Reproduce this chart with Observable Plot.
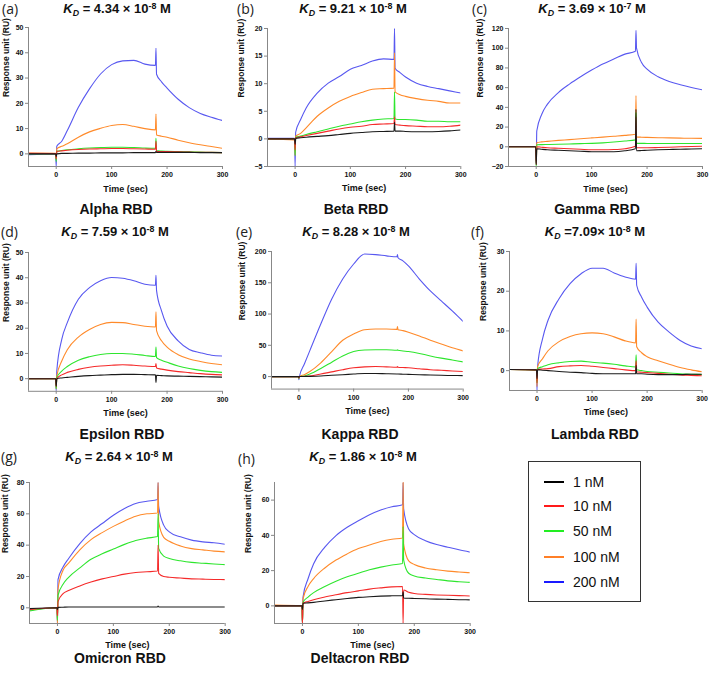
<!DOCTYPE html>
<html><head><meta charset="utf-8">
<script src="https://cdn.jsdelivr.net/npm/d3@7"></script>
<script src="https://cdn.jsdelivr.net/npm/@observablehq/plot@0.6"></script>
<style>
body{margin:0;background:#fff;}
#root{position:relative;width:709px;height:674px;overflow:hidden;font-family:"Liberation Sans",Arial,sans-serif;color:#111;}
.abs{position:absolute;white-space:nowrap;line-height:1;}
.tag{font-family:"Open Sans",sans-serif;font-size:14px;line-height:16px;color:#222;transform:translateY(-50%);}
.kd{font-weight:bold;font-size:13px;line-height:16px;transform:translate(-50%,-50%);}
.kd sub,.kd sup{font-size:0.68em;line-height:0;}
.kd sub{vertical-align:-0.3em;}
.kd sup{vertical-align:0.5em;}
.name{font-weight:bold;font-size:14px;transform:translate(-50%,-50%);}
#legend{position:absolute;left:528px;top:461px;width:111px;height:139px;border:1.5px solid #333;}
#legend .row{position:absolute;left:15px;height:16px;width:90px;}
#legend .sw{position:absolute;left:0;top:7px;width:20px;height:2px;}
#legend .lb{position:absolute;left:29px;top:0;font-size:14px;white-space:nowrap;line-height:16px;}
</style></head><body><div id="root"></div>
<script>
// sample times (sec)
const times = [-50, -1, 0, 1, 10, 20, 40, 60, 80, 100, 120, 140, 160, 179, 180, 181, 190, 200, 220, 240, 260, 280, 300];
const concentrations = ["1 nM", "10 nM", "50 nM", "100 nM", "200 nM"];
const xTicks = [0, 100, 200, 300];

// Response units (RU) per concentration: 1, 10, 50, 100, 200 nM
const alpha = [
  [0, 0, -1, 0, 0.2, 0.2, 0.3, 0.3, 0.4, 0.4, 0.4, 0.5, 0.5, 0.5, 1, 0.6, 0.6, 0.6, 0.6, 0.6, 0.5, 0.5, 0.5],
  [0.2, 0.1, -2, 1, 1.2, 1.4, 1.7, 1.9, 2.0, 2.1, 2.1, 2.0, 1.9, 1.8, 5, 1.0, 0.9, 0.9, 0.8, 0.7, 0.6, 0.6, 0.5],
  [0, 0, -3, 1, 1.3, 1.6, 2.0, 2.3, 2.5, 2.6, 2.6, 2.5, 2.3, 2.2, 6.2, 1.3, 1.1, 1.0, 0.9, 0.8, 0.7, 0.6, 0.5],
  [0.3, 0.2, -2, 2, 3, 4, 6.6, 8.7, 10.1, 11.2, 11.6, 10.9, 10, 9.5, 15.8, 7.5, 7, 6.6, 5.4, 4.4, 3.6, 2.9, 2.2],
  [-0.3, 0, -5, 3, 5, 9.2, 18.4, 25.7, 31.6, 35.3, 36.8, 37, 35.5, 35, 41.8, 31.5, 28.5, 26, 21.6, 18.3, 16, 14.5, 13.2]
];
const beta = [
  [0, 0, -1, 0.1, 0.2, 0.3, 0.45, 0.6, 0.8, 1.0, 1.15, 1.3, 1.35, 1.4, 3, 1.4, 1.4, 1.35, 1.3, 1.3, 1.35, 1.45, 1.6],
  [0, 0, -2, 0.2, 0.4, 0.6, 1.0, 1.4, 1.8, 2.1, 2.3, 2.6, 2.7, 2.8, 4, 2.6, 2.5, 2.4, 2.3, 2.2, 2.2, 2.3, 2.5],
  [0, 0, -3, 0.3, 0.5, 0.8, 1.3, 1.8, 2.3, 2.7, 3.1, 3.4, 3.6, 3.7, 8.5, 3.6, 3.5, 3.5, 3.4, 3.2, 3.2, 3.1, 3.1],
  [0, -0.2, -3, 0.5, 1.0, 2.0, 4.1, 5.6, 6.8, 7.7, 8.4, 9.0, 9.1, 9.2, 15.6, 8.5, 8.0, 7.7, 7.3, 7.0, 6.8, 6.5, 6.5],
  [0.1, 0.1, -5, 1.2, 3.5, 5.6, 8.3, 10.1, 11.3, 12.6, 13.3, 14.1, 14.5, 14.4, 20, 12.8, 12.0, 11.2, 10.1, 9.5, 9.1, 8.7, 8.3]
];
const gamma = [
  [0, 0, -18, -2, -2.5, -3, -3.5, -4, -4.5, -5, -5, -5, -4, -2, 38, -4, -3.8, -3.5, -3, -2.7, -2.5, -2.2, -2],
  [0, 0, -18, 0, -0.5, -1, -1.5, -2, -2.5, -3, -3, -2.8, -2, 0.5, 30, -1, -1, -1, -0.8, -0.5, 0, 0.3, 0.5],
  [0, 0, -20, 2, 2.2, 2.3, 2.5, 2.8, 3.2, 3.5, 4, 4.8, 5.8, 7, 35, 3.5, 3.5, 3.4, 3.4, 3.3, 3.3, 3.3, 3.3],
  [0, 0, -8, 4, 5, 5.5, 6.5, 7.3, 8.2, 9, 9.8, 10.7, 11.6, 12.8, 52, 10, 9.7, 9.5, 9.2, 9, 8.8, 8.6, 8.5],
  [0, 0, -17, 16, 33, 43, 55, 63.6, 71, 77.8, 84, 89, 94, 97, 118, 100, 85.6, 78.8, 71, 66.3, 63, 60.2, 57.8]
];
const epsilon = [
  [0, 0, -3, 0, 0.3, 0.5, 0.9, 1.2, 1.4, 1.6, 1.7, 1.7, 1.6, 1.5, -1.5, 1.3, 1.2, 1.1, 1.0, 0.9, 0.8, 0.7, 0.6],
  [0, 0, -3, 0, 1.5, 2.5, 3.7, 4.5, 5.0, 5.3, 5.5, 5.3, 5.0, 4.8, 6, 4.2, 3.8, 3.4, 2.8, 2.4, 2.0, 1.7, 1.5],
  [0, 0, -4, 0.5, 3, 4.8, 7.3, 8.7, 9.6, 10, 10, 9.7, 9.2, 8.8, 12.5, 8.3, 7.3, 6.5, 5, 4, 3.3, 2.8, 2.5],
  [0, 0, -4, 1, 7, 11.5, 16.5, 19.5, 21.5, 22.3, 22.2, 21.5, 20.8, 20.5, 26.5, 19, 15, 12.5, 9.5, 7.8, 6.8, 6, 5.5],
  [0, 0, -5, 3, 15.6, 22.2, 31.5, 36.1, 38.8, 40.1, 39.8, 38.8, 37.4, 37, 41, 35, 26.9, 20.9, 15, 11.6, 10.3, 9.3, 9]
];
const kappa = [
  [0, 0, -1, 0, 0.2, 0.4, 1, 2, 3, 4, 5, 5, 4.5, 4.2, 4.2, 4, 3.8, 3.5, 3, 2.5, 2, 1.7, 1.5],
  [0, 0, -2, 0, 0.3, 1, 4, 7.5, 11, 14, 15.5, 16, 15.5, 15, 16, 15, 14.5, 14, 12.5, 11, 10, 9, 8],
  [0, 0, -3, 0, 1, 4, 13, 23, 33, 40, 42.5, 43, 43, 42, 43, 42, 41, 40, 37, 33, 29.5, 26.5, 23.5],
  [0, 0, -3, 0, 3, 8, 22, 40, 58, 68, 75, 76, 76, 75.5, 80, 75, 73.5, 71, 65, 58, 52, 46, 41],
  [0, 0, -5, 0, 20, 41.5, 84, 124, 156, 180, 196, 195, 193, 191.5, 195, 190, 185, 177, 156, 137, 121, 105, 88]
];
const lambda = [
  [0.3, 0.2, -2, 0.2, 0.1, 0, -0.2, -0.4, -0.5, -0.7, -0.8, -0.8, -0.8, -0.8, 1.3, -0.8, -0.8, -0.9, -1, -1, -1, -0.9, -0.9],
  [0.3, 0.2, -3, 0.3, 0.4, 0.5, 1, 1.2, 1.3, 1.1, 0.8, 0.5, 0.2, 0, 2.5, -0.3, -0.4, -0.5, -0.7, -0.9, -1.1, -1.2, -1.3],
  [0.3, 0.2, -3, 0.5, 1, 1.5, 2, 2.3, 2.4, 2.1, 1.9, 1.6, 1.2, 0.9, 4, 0.2, 0, -0.2, -0.4, -0.6, -0.8, -0.9, -1],
  [0.3, 0.2, -4, 1, 3, 5, 7.3, 8.6, 9.3, 9.5, 9.3, 8.5, 7.5, 7, 13, 6, 4.5, 3.5, 2.5, 1.6, 0.8, 0.2, -0.3],
  [0.3, 0.3, -5, 1, 8, 12.7, 18.1, 21.9, 24.4, 25.8, 25.8, 24.6, 23.6, 23, 27, 21.5, 18.5, 16, 12.2, 9.7, 7.6, 6.2, 5.5]
];
const omicron = [
  [-0.5, 0, -1, 0.3, 0.4, 0.5, 0.5, 0.5, 0.5, 0.5, 0.5, 0.5, 0.5, 0.6, 1.2, 0.6, 0.5, 0.5, 0.5, 0.5, 0.5, 0.5, 0.5],
  [-1, 0, -5, 4, 9, 11, 14, 16.5, 18.5, 20, 21.5, 22.5, 23, 23.5, 40, 22, 20, 19.5, 19, 18.5, 18.3, 18.1, 18],
  [-2, 0, -8, 8, 15, 19.5, 25.5, 31, 34.5, 37.5, 40.5, 43, 44.5, 45.5, 60, 38, 33, 31.5, 30, 29, 28.5, 28, 27.6],
  [-1.5, 0, -10, 12, 24, 28.5, 37, 43.5, 48, 52, 55.5, 58.5, 60, 60.5, 80, 55, 45, 42.5, 39.5, 37.8, 37, 36.2, 35.7],
  [-1.5, 0, -10, 18, 26, 31.5, 41, 48.5, 53.8, 59.1, 63.4, 66.6, 68, 69.1, 80, 65, 52.8, 48.5, 45.3, 43.2, 42.1, 41.5, 40.6]
];
const deltacron = [
  [0, 0, -2, 1.5, 1.7, 2, 2.8, 3.5, 4.2, 4.8, 5.2, 5.5, 5.7, 5.8, 8, 4.5, 4.3, 4.2, 4, 3.8, 3.7, 3.5, 3.4],
  [0, 0, -10, 1.5, 2.5, 3.5, 5, 6.3, 7.5, 8.5, 9.5, 10.2, 10.8, 11, -10, 9, 7.7, 7, 6.5, 6.2, 6, 5.8, 5.6],
  [0, 0, -10, 2, 5, 7.5, 11, 14, 16.5, 18.5, 20.5, 22, 23.2, 24, 45, 26, 18.5, 17, 15.8, 15, 14.2, 13.7, 13.3],
  [0.5, 0, -10, 4, 11, 15.5, 21.5, 26, 29.5, 32.5, 34.5, 36.5, 37.8, 38.5, 70, 35, 25.5, 23.5, 21.5, 20.5, 19.7, 19.2, 18.8],
  [0, 0, -10, 5, 15.4, 23.9, 33.3, 39.9, 44.6, 48.3, 51.7, 54.4, 56.2, 57.4, 70, 55, 43.6, 40.4, 37, 34.8, 33.3, 31.8, 30.5]
];

const panelTags = ["(a)", "(b)", "(c)", "(d)", "(e)", "(f)", "(g)", "(h)"];
const panelNames = ["Alpha RBD", "Beta RBD", "Gamma RBD", "Epsilon RBD", "Kappa RBD", "Lambda RBD", "Omicron RBD", "Deltacron RBD"];
const kdValues = ["4.34", "9.21", "3.69", "7.59", "8.28", "7.09", "2.64", "1.86"];
const kdExponents = ["-8", "-8", "-7", "-8", "-8", "-8", "-8", "-8"];
const yDomains = [[-5, 50], [-5, 20], [-20, 120], [-5, 50], [-20, 200], [-5, 30], [-10, 80], [-10, 70]];
const yTickSets = [
  [0, 10, 20, 30, 40, 50], [-5, 0, 5, 10, 15, 20], [-20, 0, 20, 40, 60, 80, 100, 120],
  [0, 10, 20, 30, 40, 50], [0, 50, 100, 150, 200], [0, 10, 20, 30],
  [0, 20, 40, 60, 80], [0, 20, 40, 60]
];
const panelData = [alpha, beta, gamma, epsilon, kappa, lambda, omicron, deltacron];

// styles / layout
const colors = ["#1a1a1a", "#f52a2a", "#2ee62e", "#ff8a2a", "#5858f0"];
const legendColors = ["#000000", "#ff1a1a", "#22ee22", "#ff7f27", "#1a1aff"];
const layout = [
  {x0: 28, x1: 222, y0: 27, y1: 166, ldx: 22, tag: [2, 9], kd: [117, 9], name: [116, 209]},
  {x0: 266.7, x1: 460, y0: 27.7, y1: 165.7, ldx: 26, tag: [237, 9], kd: [353, 9], name: [356, 209]},
  {x0: 507.7, x1: 701.7, y0: 27.7, y1: 165.7, ldx: 28, tag: [472, 9], kd: [592, 9], name: [597, 209]},
  {x0: 28, x1: 222, y0: 251.7, y1: 390.5, ldx: 22, tag: [1, 232], kd: [115, 232], name: [122, 434]},
  {x0: 271, x1: 462.7, y0: 250.7, y1: 388.3, ldx: 29, tag: [236, 232], kd: [356, 232], name: [360, 434]},
  {x0: 509, x1: 701.7, y0: 251, y1: 390, ldx: 26, tag: [471, 232], kd: [595, 232], name: [595, 434]},
  {x0: 29.3, x1: 225, y0: 482.3, y1: 623.3, ldx: 24, tag: [1, 457], kd: [119, 457], name: [120, 658]},
  {x0: 274.3, x1: 470, y0: 482.3, y1: 623.3, ldx: 26, tag: [238, 459], kd: [363, 457], name: [360, 658]}
];

const root = document.getElementById("root");
function addDiv(cls, html, x, y) {
  const d = document.createElement("div");
  d.className = "abs " + cls;
  d.innerHTML = html;
  d.style.left = x + "px";
  d.style.top = y + "px";
  root.appendChild(d);
  return d;
}

panelData.forEach((series, p) => {
  const L = layout[p];
  const rows = [];
  for (let i = series.length - 1; i >= 0; i--) {
    series[i].forEach((v, j) => rows.push({t: times[j], ru: v, c: concentrations[i]}));
  }
  const ml = 40, mr = 8, mt = 8, mb = 40;
  const fw = L.x1 - L.x0, fh = L.y1 - L.y0;
  const plot = Plot.plot({
    width: fw + ml + mr, height: fh + mt + mb,
    marginLeft: ml, marginRight: mr, marginTop: mt, marginBottom: mb,
    style: {fontFamily: "'Liberation Sans', Arial, sans-serif", fontWeight: "bold", fontSize: "7px", background: "transparent", overflow: "visible"},
    x: {domain: [-50, 300]},
    y: {domain: yDomains[p]},
    color: {domain: concentrations, range: colors},
    marks: [
      Plot.line(rows, {x: "t", y: "ru", z: "c", stroke: "c", strokeWidth: 1.1, curve: "monotone-x", clip: true}),
      Plot.ruleX([-50], {stroke: "#888", strokeWidth: 1}),
      Plot.ruleY([yDomains[p][0]], {stroke: "#888", strokeWidth: 1}),
      Plot.axisX({ticks: xTicks, tickSize: 3, tickPadding: 3, stroke: "#888", fill: "#111", label: null}),
      Plot.axisY({ticks: yTickSets[p], tickSize: 3, tickPadding: 2, stroke: "#888", fill: "#111", label: null}),
      Plot.text(["Time (sec)"], {text: d => d, frameAnchor: "bottom", dy: 25, fontSize: 9, fontWeight: "bold", fill: "#111"}),
      Plot.text(["Response unit (RU)"], {text: d => d, frameAnchor: "left", rotate: -90, dx: -L.ldx, fontSize: 8.5, fontWeight: "bold", fill: "#111"})
    ]
  });
  plot.style.position = "absolute";
  plot.style.left = (L.x0 - ml) + "px";
  plot.style.top = (L.y0 - mt) + "px";
  root.appendChild(plot);

  addDiv("tag", panelTags[p], L.tag[0], L.tag[1]);
  const sep = p === 5 ? [" =", "× "] : [" = ", " × "];
  const kdHtml = `<i>K</i><sub><i>D</i></sub>${sep[0]}${kdValues[p]}${sep[1]}10<sup>${kdExponents[p]}</sup> M`;
  addDiv("kd", kdHtml, L.kd[0], L.kd[1]);
  addDiv("name", panelNames[p], L.name[0], L.name[1]);
});

// legend
const legend = document.createElement("div");
legend.id = "legend";
const rowTops = [12, 36, 61, 87, 112];
concentrations.forEach((c, i) => {
  const r = document.createElement("div");
  r.className = "row";
  r.style.top = rowTops[i] + "px";
  r.innerHTML = `<div class="sw" style="background:${legendColors[i]}"></div><div class="lb">${c}</div>`;
  legend.appendChild(r);
});
root.appendChild(legend);
</script>
</body></html>
